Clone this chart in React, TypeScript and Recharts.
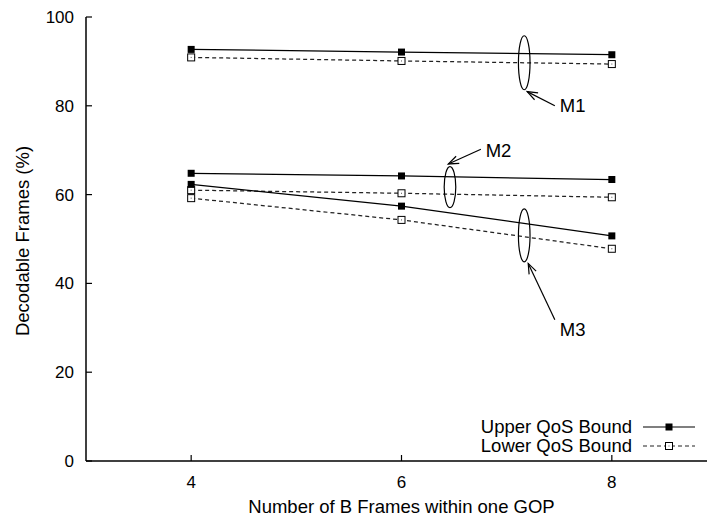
import React from 'react';
import { LineChart, Line, XAxis, YAxis, Legend, ReferenceDot, ReferenceLine } from 'recharts';

// Decodable frames (%) against the number of B frames per GOP
const bFrames = [4, 6, 8];
const m1Upper = [92.7, 92.1, 91.5];
const m1Lower = [90.9, 90.1, 89.4];
const m2Upper = [64.8, 64.2, 63.4];
const m2Lower = [61.0, 60.3, 59.4];
const m3Upper = [62.3, 57.4, 50.7];
const m3Lower = [59.2, 54.3, 47.8];

const xTicks = [4, 6, 8];
const yTicks = [0, 20, 40, 60, 80, 100];
const legendNames = ['Upper QoS Bound', 'Lower QoS Bound'];

// Group annotations (data units): ellipse centre, arrow tail -> head, label anchor
const groupNames = ['M1', 'M2', 'M3'];
const ellipseX = [7.167, 6.461, 7.167];
const ellipseY = [89.7, 61.7, 50.8];
const ellipseRy = [27, 20.5, 26.5];
const arrowTailX = [7.458, 6.755, 7.458];
const arrowTailY = [80.0, 70.2, 31.8];
const arrowHeadX = [7.195, 6.445, 7.205];
const arrowHeadY = [83.2, 66.9, 44.5];
const labelX = [7.505, 6.8, 7.505];
const labelY = [80.0, 69.9, 29.7];

const rows = bFrames.map((b, i) => ({
  b,
  m1u: m1Upper[i],
  m1l: m1Lower[i],
  m2u: m2Upper[i],
  m2l: m2Lower[i],
  m3u: m3Upper[i],
  m3l: m3Lower[i],
}));

const FONT = '"Liberation Sans", Arial, Helvetica, sans-serif';
const INK = '#000';
const DASH_INK = '#222';

const FilledSquare = (p: any) => (
  <rect key={p.key} x={p.cx - 3.5} y={p.cy - 3.5} width={7} height={7} fill={INK} />
);

const OpenSquare = (p: any) => (
  <g key={p.key}>
    <rect x={p.cx - 3.5} y={p.cy - 3.5} width={7} height={7} fill="#fff" stroke={INK} strokeWidth={1} />
    <rect x={p.cx - 0.5} y={p.cy - 0.5} width={1} height={1} fill="#555" />
  </g>
);

const BottomTick = (p: any) => (
  <g>
    <line x1={p.x} y1={p.y} x2={p.x} y2={p.y - 6} stroke={INK} strokeWidth={1.2} />
    <text x={p.x} y={p.y + 26.5} textAnchor="middle" fontSize={17} fontFamily={FONT} fill={INK}>
      {p.payload.value}
    </text>
  </g>
);

const TopTick = (p: any) => (
  <line x1={p.x} y1={p.y} x2={p.x} y2={p.y + 6} stroke={INK} strokeWidth={1.2} />
);

const LeftTick = (p: any) => (
  <g>
    <line x1={p.x} y1={p.y} x2={p.x + 6} y2={p.y} stroke={INK} strokeWidth={1.2} />
    <text x={p.x - 12} y={p.y + 6} textAnchor="end" fontSize={17} fontFamily={FONT} fill={INK}>
      {p.payload.value}
    </text>
  </g>
);

const Arrow = (p: any) => {
  const { x1, y1, x2, y2 } = p;
  const ang = Math.atan2(y2 - y1, x2 - x1);
  const len = 11;
  const spread = 0.36;
  const ax = x2 - len * Math.cos(ang - spread);
  const ay = y2 - len * Math.sin(ang - spread);
  const bx = x2 - len * Math.cos(ang + spread);
  const by = y2 - len * Math.sin(ang + spread);
  return (
    <g>
      <line x1={x1} y1={y1} x2={x2} y2={y2} stroke={INK} strokeWidth={1.2} />
      <polyline points={`${ax},${ay} ${x2},${y2} ${bx},${by}`} fill="none" stroke={INK} strokeWidth={1.2} />
    </g>
  );
};

const LegendBox = () => (
  <svg width={240} height={46} style={{ display: 'block' }}>
    {legendNames.map((name, i) => {
      const cy = 12 + i * 19;
      return (
        <g key={name}>
          <text x={162} y={cy + 5.5} textAnchor="end" fontSize={18.5} fontFamily={FONT} fill={INK}>
            {name}
          </text>
          <line
            x1={173}
            y1={cy}
            x2={225}
            y2={cy}
            stroke={i === 0 ? INK : DASH_INK}
            strokeWidth={1.2}
            strokeDasharray={i === 0 ? undefined : '4 3'}
          />
          {i === 0 ? FilledSquare({ cx: 199, cy }) : OpenSquare({ cx: 199, cy })}
        </g>
      );
    })}
  </svg>
);

const YTitle = (p: any) => {
  const vb = p.viewBox;
  const cy = vb.y + vb.height / 2 + 2;
  return (
    <text
      x={29}
      y={cy}
      transform={`rotate(-90, 29, ${cy})`}
      textAnchor="middle"
      fontSize={18.5}
      fontFamily={FONT}
      fill={INK}
    >
      Decodable Frames (%)
    </text>
  );
};

const XTitle = (p: any) => {
  const vb = p.viewBox;
  return (
    <text x={vb.x + vb.width / 2} y={513} textAnchor="middle" fontSize={18.5} fontFamily={FONT} fill={INK}>
      Number of B Frames within one GOP
    </text>
  );
};

const seriesStyle = [
  { key: 'm1u', upper: true },
  { key: 'm1l', upper: false },
  { key: 'm2u', upper: true },
  { key: 'm2l', upper: false },
  { key: 'm3u', upper: true },
  { key: 'm3l', upper: false },
];

export default function App() {
  return (
    <div style={{ position: 'absolute', left: 0, top: 0, width: 707, height: 520, overflow: 'hidden', background: '#fff' }}>
      <LineChart width={730} height={520} data={rows} margin={{ top: 17, right: 13, bottom: 0, left: 0 }}>
        <XAxis
          dataKey="b"
          type="number"
          domain={[3, 9]}
          ticks={xTicks}
          height={59}
          tickSize={0}
          tickMargin={0}
          axisLine={{ stroke: INK, strokeWidth: 1.5 }}
          tickLine={false}
          tick={<BottomTick />}
          label={<XTitle />}
        />
        <XAxis
          xAxisId="top"
          orientation="top"
          type="number"
          domain={[3, 9]}
          ticks={xTicks}
          height={0}
          tickSize={0}
          tickMargin={0}
          axisLine={{ stroke: INK, strokeWidth: 1.5 }}
          tickLine={false}
          tick={<TopTick />}
        />
        <YAxis
          type="number"
          domain={[0, 100]}
          ticks={yTicks}
          width={86}
          tickSize={0}
          tickMargin={0}
          axisLine={{ stroke: INK, strokeWidth: 1.5 }}
          tickLine={false}
          tick={<LeftTick />}
          label={<YTitle />}
        />
        {seriesStyle.map((s) => (
          <Line
            key={s.key}
            dataKey={s.key}
            type="linear"
            stroke={s.upper ? INK : DASH_INK}
            strokeWidth={1.25}
            strokeDasharray={s.upper ? undefined : '4 3'}
            dot={s.upper ? FilledSquare : OpenSquare}
            activeDot={false}
            legendType="none"
            isAnimationActive={false}
          />
        ))}
        {groupNames.map((g, i) => (
          <ReferenceDot
            key={`e-${g}`}
            x={ellipseX[i]}
            y={ellipseY[i]}
            r={1}
            shape={(p: any) => (
              <ellipse cx={p.cx} cy={p.cy} rx={5.8} ry={ellipseRy[i]} fill="none" stroke={INK} strokeWidth={1.2} />
            )}
          />
        ))}
        {groupNames.map((g, i) => (
          <ReferenceLine
            key={`a-${g}`}
            segment={[
              { x: arrowTailX[i], y: arrowTailY[i] },
              { x: arrowHeadX[i], y: arrowHeadY[i] },
            ]}
            shape={Arrow}
          />
        ))}
        {groupNames.map((g, i) => (
          <ReferenceDot
            key={`t-${g}`}
            x={labelX[i]}
            y={labelY[i]}
            r={1}
            shape={(p: any) => (
              <text x={p.cx} y={p.cy + 6.5} fontSize={18.5} fontFamily={FONT} fill={INK}>
                {g}
              </text>
            )}
          />
        ))}
        <Legend
          layout="vertical"
          align="center"
          verticalAlign="middle"
          wrapperStyle={{ left: 470, top: 415, width: 240, height: 46 }}
          content={<LegendBox />}
        />
      </LineChart>
    </div>
  );
}
